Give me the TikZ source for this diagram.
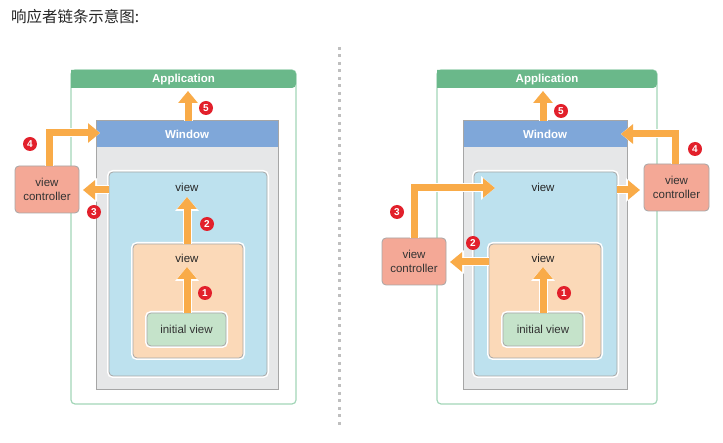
\documentclass[tikz,border=0pt]{standalone}
\usepackage{fontspec}
\setmainfont{Liberation Sans}
\newfontfamily\cjk{Noto Sans CJK SC}
\usetikzlibrary{arrows.meta}
\definecolor{appgreen}{HTML}{6AB88A}
\definecolor{appborder}{HTML}{A3D6B8}
\definecolor{winblue}{HTML}{7FA7D9}
\definecolor{wingray}{HTML}{E6E7E8}
\definecolor{viewblue}{HTML}{BDE1EE}
\definecolor{vieworange}{HTML}{FBD9B8}
\definecolor{initgreen}{HTML}{C5E3CA}
\definecolor{vcred}{HTML}{F4A896}
\definecolor{arroworange}{HTML}{F9AB48}
\definecolor{badgered}{HTML}{E2202B}
\begin{document}
\begin{tikzpicture}[x=1pt,y=-1pt,
  every node/.style={inner sep=0pt, outer sep=0pt, font=\fontsize{11.5}{14}\selectfont},
  appbox/.style={draw=appborder, line width=1.2pt, fill=white, rounded corners=4pt},
  winbox/.style={draw=black!35, line width=1pt, fill=wingray},
  viewbox/.style={draw=black!35, line width=0.8pt, rounded corners=4pt, preaction={draw=white, line width=4pt}},
  vcbox/.style={draw=black!35, line width=0.8pt, fill=vcred, rounded corners=4pt, align=center, text=black!80},
  hdr/.style={font=\fontsize{11.5}{13}\selectfont\bfseries, text=white},
  lbl/.style={text=black!85},
  resp/.style={draw=arroworange, line width=7pt, -{Triangle[width=19pt,length=12pt]},
    preaction={draw=white, line width=9pt, -{Triangle[width=23pt,length=14pt]}}},
  badge/.style={circle, fill=badgered, minimum size=14pt, text=white, font=\fontsize{10}{10}\selectfont\bfseries}
]
\useasboundingbox (0,0) rectangle (723,443);
\node[anchor=west, font=\cjk\fontsize{15.5}{17}\selectfont, text=black!85] (title) at (11,17) {响应者链条示意图:};
\draw[black!25, line width=3pt, dash pattern=on 3pt off 4.5pt] (339,47) -- (339,427);

% ---------------- left diagram ----------------
\node[appbox, minimum width=225pt, minimum height=334pt] (appL) at (183.5,237) {};
\fill[appgreen, rounded corners=4pt] (71,70) -- (296,70) -- (296,88) [sharp corners] -- (71,88) -- cycle;
\node[hdr] (appLt) at (183.5,80) {Application};
\node[winbox, minimum width=182pt, minimum height=269pt] (winL) at (187,255.5) {};
\fill[winblue] (96,121) rectangle (278,147);
\draw[black!35, line width=1pt] (96,121) rectangle (278,390);
\node[hdr] (winLt) at (187,134) {Window};
\node[viewbox, fill=viewblue, minimum width=158pt, minimum height=204pt] (blueL) at (188,274) {};
\node[lbl] (blueLt) at (187,187) {view};
\node[viewbox, fill=vieworange, minimum width=110pt, minimum height=114pt] (orL) at (188,301) {};
\node[lbl] (orLt) at (187,258) {view};
\node[viewbox, fill=initgreen, minimum width=79pt, minimum height=33pt, text=black!80] (initL) at (186.5,329.5) {initial view};
\node[vcbox, minimum width=64pt, minimum height=47pt] (vcL) at (47,189.5) {view\\controller};

\coordinate (t1L) at (187,267);
\coordinate (t2L) at (187,197);
\coordinate (t3L) at (83,190);
\coordinate (t4L) at (100,133);
\coordinate (t5L) at (188,91);
\draw[resp] (initL.north -| t1L) -- (t1L);
\draw[resp] (orL.north -| t2L) -- (t2L);
\draw[resp] (blueL.west |- t3L) -- (t3L);
\draw[resp] (vcL.north -| 49,0) |- (t4L);
\draw[resp] (winL.north -| t5L) -- (t5L);
\node[badge] (b1L) at (205,293) {1};
\node[badge] (b2L) at (207,224) {2};
\node[badge] (b3L) at (94,212) {3};
\node[badge] (b4L) at (30,144) {4};
\node[badge] (b5L) at (206,108) {5};

% ---------------- right diagram ----------------
\node[appbox, minimum width=220pt, minimum height=334pt] (appR) at (547,237) {};
\fill[appgreen, rounded corners=4pt] (437,70) -- (657,70) -- (657,88) [sharp corners] -- (437,88) -- cycle;
\node[hdr] (appRt) at (547,80) {Application};
\node[winbox, minimum width=164pt, minimum height=269pt] (winR) at (545,255.5) {};
\fill[winblue] (463,121) rectangle (627,147);
\draw[black!35, line width=1pt] (463,121) rectangle (627,390);
\node[hdr] (winRt) at (545,134) {Window};
\node[viewbox, fill=viewblue, minimum width=143pt, minimum height=204pt] (blueR) at (545.5,274) {};
\node[lbl] (blueRt) at (543,187) {view};
\node[viewbox, fill=vieworange, minimum width=112pt, minimum height=114pt] (orR) at (545,301) {};
\node[lbl] (orRt) at (543,258) {view};
\node[viewbox, fill=initgreen, minimum width=80pt, minimum height=33pt, text=black!80] (initR) at (543,329.5) {initial view};
\node[vcbox, minimum width=64pt, minimum height=47pt] (vcA) at (414,261.5) {view\\controller};
\node[vcbox, minimum width=65pt, minimum height=47pt] (vcB) at (676.5,187.5) {view\\controller};

\coordinate (t1R) at (543,267);
\coordinate (t2R) at (450,262);
\coordinate (t3R) at (495,188);
\coordinate (t6R) at (640,190);
\coordinate (t4R) at (621,134);
\coordinate (t5R) at (543,91);
\draw[resp] (initR.north -| t1R) -- (t1R);
\draw[resp] (orR.west |- t2R) -- (t2R);
\draw[resp] (vcA.north) |- (t3R);
\draw[resp] (blueR.east |- t6R) -- (t6R);
\draw[resp] (vcB.north -| 675,0) |- (t4R);
\draw[resp] (winR.north -| t5R) -- (t5R);
\node[badge] (b1R) at (564,293) {1};
\node[badge] (b2R) at (473,243) {2};
\node[badge] (b3R) at (397,212) {3};
\node[badge] (b4R) at (695,149) {4};
\node[badge] (b5R) at (561,111) {5};
\end{tikzpicture}
\end{document}
